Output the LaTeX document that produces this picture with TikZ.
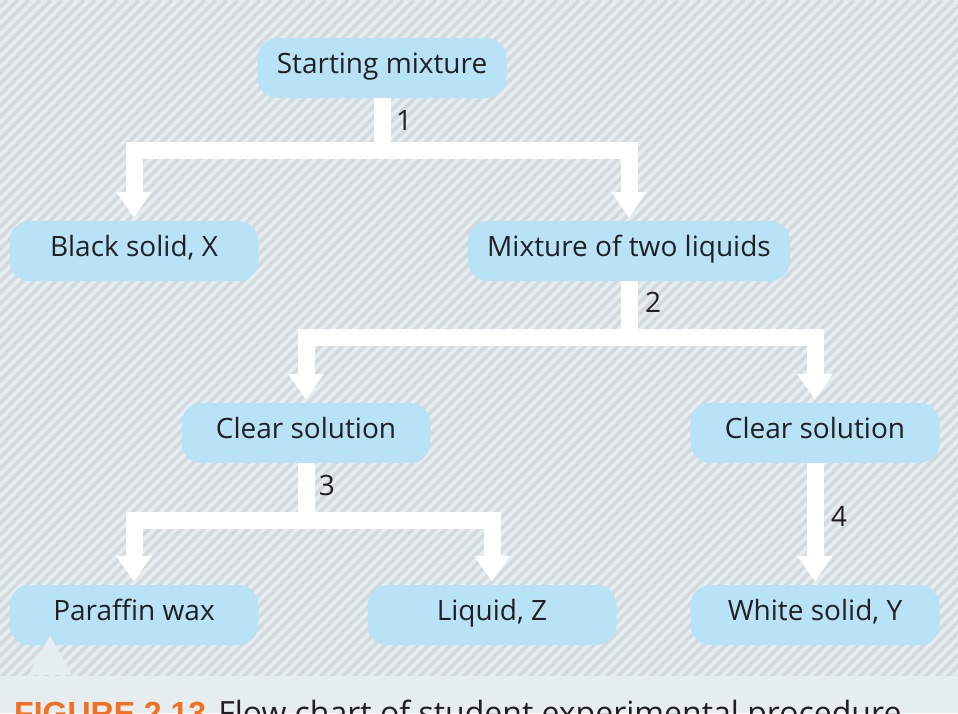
\documentclass[tikz,border=0pt]{standalone}
\usepackage{fontspec}
\setmainfont{Open Sans}
\newfontfamily\capfont{Liberation Sans}
\usetikzlibrary{arrows.meta}
\definecolor{bgA}{HTML}{E6EDF1}
\definecolor{bgS}{HTML}{D3D9DD}
\definecolor{boxc}{HTML}{B8E3F7}
\definecolor{txt}{HTML}{231F20}
\definecolor{orng}{HTML}{F37021}
\tikzset{
  box/.style={fill=boxc,rounded corners=20pt,minimum width=249pt,minimum height=60pt,inner sep=0pt,font=\fontsize{28}{32}\selectfont,text=txt,text height=18pt,text depth=8pt},
  flow/.style={draw=white,line width=17pt,line join=miter,-{Triangle[width=34pt,length=26pt]},shorten >=3pt},
  lbl/.style={font=\fontsize{28}{32}\selectfont,text=txt}
}
\begin{document}
\begin{tikzpicture}[x=1pt,y=-1pt]
\useasboundingbox (0,0) rectangle (958,713);
\fill[bgA] (0,0) rectangle (958,713);
\begin{scope}
\clip (0,0) rectangle (958,675);
\foreach \i in {-70,...,90}{
  \draw[bgS,line width=3.8pt] (\i*11,700) -- (\i*11+700,0);
}
\end{scope}
\node[box] (start) at (382,68) {Starting mixture};
\node[box] (black) at (134,251) {Black solid, X};
\node[box,minimum width=322pt] (mix) at (629,251) {Mixture of two liquids};
\node[box] (clearL) at (306,433) {Clear solution};
\node[box] (clearR) at (815,433) {Clear solution};
\node[box] (wax) at (134,615) {Paraffin wax};
\node[box] (liq) at (492,615) {Liquid, Z};
\node[box] (white) at (815,615) {White solid, Y};
\fill[bgA] (28,675) -- (50,636) -- (72,675) -- cycle;
\coordinate (j1) at (382,150);
\coordinate (j2) at (629,337);
\coordinate (j3) at (306,520);
\draw[flow] (start.south) -- (j1) -| (black.north);
\draw[flow] (start.south) -- (j1) -| (mix.north);
\draw[flow] (mix.south) -- (j2) -| (clearL.north);
\draw[flow] (mix.south) -- (j2) -| (clearR.north);
\draw[flow] (clearL.south) -- (j3) -| (wax.north);
\draw[flow] (clearL.south) -- (j3) -| (liq.north);
\draw[flow] (clearR.south) -- (white.north);
\node[lbl] (n1) at (404,121) {1};
\node[lbl] (n2) at (653,302) {2};
\node[lbl] (n3) at (327,485) {3};
\node[lbl] (n4) at (839,516) {4};
\node[anchor=base west,inner sep=0pt] (cap) at (14,724) {\fontsize{32}{36}\selectfont{\capfont\bfseries\color{orng}FIGURE 2.13}\hspace{12pt}\color{txt}Flow chart of student experimental procedure};
\end{tikzpicture}
\end{document}
